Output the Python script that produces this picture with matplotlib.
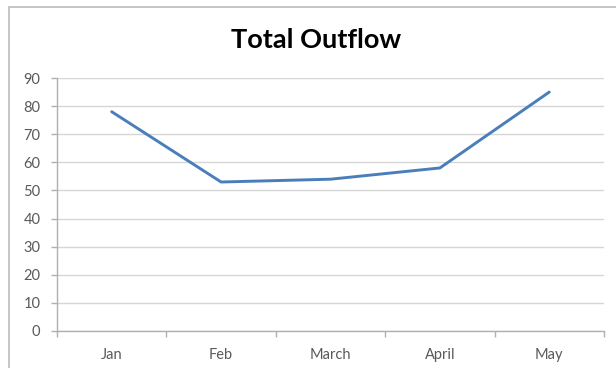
import matplotlib
matplotlib.use("Agg")
import matplotlib.pyplot as plt
from matplotlib.patches import Rectangle
from matplotlib.ticker import FixedLocator, NullFormatter

months = ["Jan", "Feb", "March", "April", "May"]
outflow = [78, 53, 54, 58, 85]
y_ticks = [0, 10, 20, 30, 40, 50, 60, 70, 80, 90]

plt.rcParams["font.family"] = ["Lato", "DejaVu Sans"]

fig = plt.figure(figsize=(6.16, 3.68), dpi=100)
fig.patch.set_facecolor("white")

# outer chart frame (runs off the right and bottom edges)
fig.add_artist(Rectangle((9 / 616, -0.05), 1.0, 1 - 7 / 368 + 0.05,
                         transform=fig.transFigure, fill=False,
                         edgecolor="#c0c0c0", linewidth=1.3))

ax = fig.add_axes([57 / 616, 1 - 331 / 368, (604 - 57) / 616, (331 - 78) / 368])

x = [i + 0.5 for i in range(len(months))]
ax.plot(x, outflow, color="#4a7ebb", linewidth=2.1, solid_capstyle="round", zorder=3)

ax.set_xlim(0, len(months))
ax.set_ylim(0, 90)
ax.set_yticks(y_ticks)
ax.yaxis.grid(True, color="#d6d6d6", linewidth=1.0)
ax.set_axisbelow(True)

ax.xaxis.set_major_locator(FixedLocator(range(len(months) + 1)))
ax.xaxis.set_major_formatter(NullFormatter())
ax.xaxis.set_minor_locator(FixedLocator(x))
ax.set_xticklabels(months, minor=True)
ax.tick_params(axis="x", which="minor", length=0, pad=12, labelsize=10.5, labelcolor="#595959")
ax.tick_params(axis="x", which="major", length=4, width=1, color="#b0b0b0", direction="out")
ax.tick_params(axis="y", length=4, width=1, color="#b0b0b0", pad=8, labelsize=10.5, labelcolor="#595959")

for side in ("top", "right"):
    ax.spines[side].set_visible(False)
for side in ("left", "bottom"):
    ax.spines[side].set_color("#b0b0b0")
    ax.spines[side].set_linewidth(1.0)

fig.text(316 / 616, 1 - 40 / 368, "Total Outflow", ha="center", va="center",
         fontsize=19.5, fontweight="bold", color="#000000")

fig.savefig("out.png", dpi=100, facecolor="white")
